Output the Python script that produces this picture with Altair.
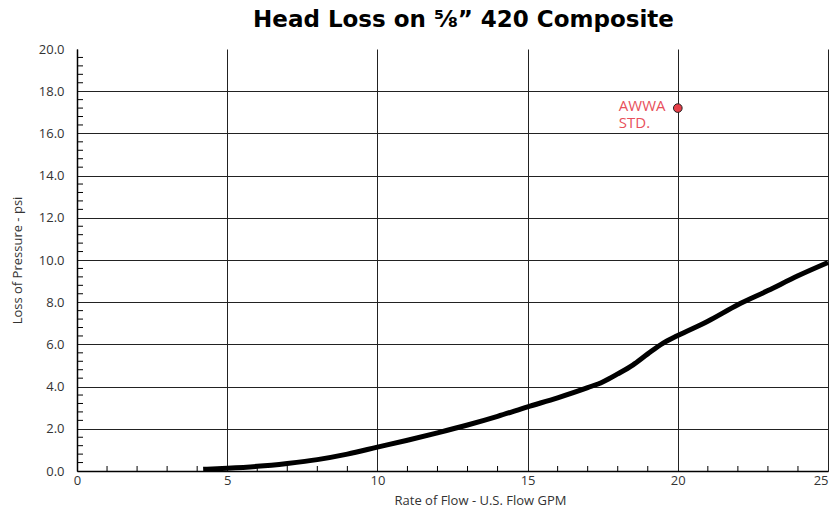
import altair as alt
import pandas as pd

# Curve data
flow = [4.2, 5, 6, 7, 8, 9, 10, 11, 12, 13, 14, 15, 16, 17, 17.5, 18, 18.5, 19, 19.5, 20, 21, 22, 23, 24, 25]
loss = [0.08, 0.13, 0.22, 0.36, 0.54, 0.80, 1.13, 1.46, 1.81, 2.18, 2.59, 3.04, 3.47, 3.95, 4.22, 4.6, 5.02, 5.55, 6.05, 6.42, 7.1, 7.88, 8.55, 9.25, 9.88]

awwa_flow = [20]
awwa_loss = [17.2]
awwa_label = ["AWWA\nSTD."]

y_ticks = [0, 2, 4, 6, 8, 10, 12, 14, 16, 18, 20]
x_ticks = [0, 5, 10, 15, 20, 25]
y_minor = [round(i * 0.4, 1) for i in range(51) if (i * 0.4) % 2 > 0.01 and (i * 0.4) % 2 < 1.99]
x_minor = [i for i in range(26) if i % 5 != 0]

W, H = 751, 422
FONT = "Open Sans"

curve = pd.DataFrame({"flow": flow, "loss": loss})
pt = pd.DataFrame({"flow": awwa_flow, "loss": awwa_loss, "label": awwa_label})
ymin = pd.DataFrame({"v": y_minor})
xmin = pd.DataFrame({"v": x_minor})

xscale = alt.Scale(domain=[0, 25], nice=False, zero=False)
yscale = alt.Scale(domain=[0, 20], nice=False, zero=False)

x_axis = alt.Axis(
    values=x_ticks, title="Rate of Flow - U.S. Flow GPM", grid=True,
    gridColor="#222", gridWidth=1, ticks=False, labelPadding=3,
    labelAlign=alt.condition(alt.datum.value == 25, alt.value("right"), alt.value("center")),
    domainColor="#000", domainWidth=1.5, labelColor="#333", titleColor="#333",
    labelFont=FONT, titleFont=FONT, labelFontSize=13, titleFontSize=13,
    titleFontWeight="normal", titleX=403, titlePadding=7, labelFlush=False,
)
y_axis = alt.Axis(
    values=y_ticks, format=".1f", title="Loss of Pressure - psi", grid=True,
    gridColor=alt.condition(alt.datum.value == 20, alt.value("transparent"), alt.value("#222")),
    gridWidth=1, ticks=False, labelPadding=13,
    domainColor="#000", domainWidth=1.5, labelColor="#333", titleColor="#333",
    labelFont=FONT, titleFont=FONT, labelFontSize=13, titleFontSize=13,
    titleFontWeight="normal", titlePadding=14,
)

base_line = alt.Chart(curve).mark_line(color="#000", strokeWidth=5, interpolate="monotone").encode(
    x=alt.X("flow:Q", scale=xscale, axis=x_axis),
    y=alt.Y("loss:Q", scale=yscale, axis=y_axis),
)

ytick_layer = alt.Chart(ymin).mark_rule(color="#000", strokeWidth=1).encode(
    y=alt.Y("v:Q", scale=yscale), x=alt.value(0), x2=alt.value(6)
)
xtick_layer = alt.Chart(xmin).mark_rule(color="#000", strokeWidth=1).encode(
    x=alt.X("v:Q", scale=xscale), y=alt.value(H), y2=alt.value(H - 5)
)

point = alt.Chart(pt).mark_point(filled=True, fill="#e8404a", stroke="#222", strokeWidth=1, size=75, opacity=1).encode(
    x=alt.X("flow:Q", scale=xscale), y=alt.Y("loss:Q", scale=yscale)
)
label = alt.Chart(pt).mark_text(
    align="left", baseline="top", dx=-59, dy=-9, color="#e8505b", font=FONT,
    fontSize=15, lineBreak="\n", lineHeight=17
).encode(x=alt.X("flow:Q", scale=xscale), y=alt.Y("loss:Q", scale=yscale), text="label:N")

chart = alt.layer(ytick_layer, xtick_layer, base_line, point, label).properties(
    width=W, height=H,
    title=alt.TitleParams("Head Loss on ⅝” 420 Composite", font="DejaVu Sans", fontSize=23,
                          fontWeight="bold", color="#000", anchor="middle", offset=11, dx=11),
    autosize=alt.AutoSizeParams(type="none"),
    padding={"left": 69, "top": 41, "right": 2, "bottom": 38},
).configure_view(stroke=None)

chart.save("out.html", embed_options={"renderer": "svg", "actions": False})
